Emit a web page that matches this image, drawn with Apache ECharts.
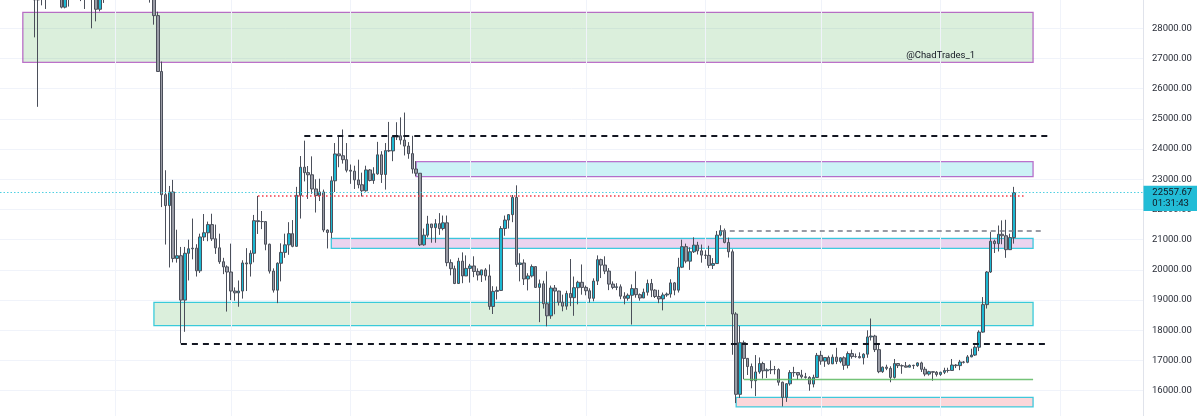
<!DOCTYPE html>
<html><head><meta charset="utf-8">
<script src="https://cdn.jsdelivr.net/npm/echarts@6/dist/echarts.min.js"></script>
<style>html,body{margin:0;padding:0;background:#fff;overflow:hidden}#c{width:1200px;height:416px}</style>
</head><body><div id="c"></div>
<script>
// ---- data: BTC daily candles, 2022-05-03 .. 2023-01-20 ----
const startDate = '2022-05-03';
const opens = [
// May
38470,37720,39690,36550,36010,35470,34060,30080,31020,28940,29030,29280,29870,31300,29850,30420,28700,30290,29180,29430,30290,29100,29650,29540,29200,28630,29030,29450,31720,
// Jun
31790,29800,30450,29700,29860,29900,31370,31120,30190,30100,29080,28420,26570,22490,22130,22580,20380,20470,19000,20550,20700,20720,19970,21090,21230,21500,21030,20730,20270,20100,
// Jul
19930,19300,19240,19300,20230,20200,20550,21630,21600,21600,20850,19960,19330,20220,20580,20830,21200,20780,22470,23400,23220,23150,22680,22460,22580,21320,21240,22950,23840,23780,23650,
// Aug
23300,23270,22980,22820,22620,23310,22960,23180,23810,23160,23950,23940,24400,24440,24300,24100,23850,23340,23200,20830,21150,21520,21400,21530,21370,21560,20240,20040,19550,20290,19800,
// Sep
20050,20130,19950,19830,20000,19800,18790,19290,19320,21370,21650,21830,22400,20180,20230,19700,19800,20110,19420,19540,18880,18480,19400,19300,18930,18800,19220,19080,19410,19590,
// Oct
19420,19310,19060,19630,20340,20160,19960,19530,19420,19440,19130,19060,19160,19380,19180,19070,19260,19550,19330,19120,19040,19170,19200,19570,19330,20090,20770,20290,20600,20820,20630,
// Nov
20490,20480,20150,20210,21150,21300,20910,20600,18540,15880,17590,17070,16800,16330,16620,16900,16660,16690,16700,16700,16280,15780,16230,16600,16600,16520,16460,16440,16220,16440,
// Dec
17170,16980,17100,16890,17110,16970,17090,16840,17230,17130,17130,17090,17210,17780,17810,17360,16630,16780,16740,16440,16900,16830,16820,16780,16840,16830,16920,16710,16550,16630,16610,
// Jan
16540,16610,16670,16670,16850,16830,16950,16940,17120,17180,17440,17940,18850,19930,20950,20870,21180,21130,20670,21070
];
const highs = [
38650,39980,39830,36650,36130,35500,34240,32650,32180,30030,31000,30340,31440,31300,30750,30650,30520,30770,29600,30440,30650,29790,30190,29850,29370,29220,29540,32200,32380,
31980,30640,30680,29950,30150,31760,31550,31320,30700,30350,29440,28550,26900,23300,22780,22980,21330,20760,20760,21000,21700,20850,21200,21850,21600,21860,21500,21200,20400,20150,
20870,19420,19650,20320,20720,20650,21820,22450,21950,21600,20870,20050,20250,20880,21200,21580,21650,22750,23770,24280,23440,23760,23000,23020,22660,21340,23100,24200,24450,24650,24200,
23490,23450,23650,23220,23450,23340,23400,24240,23930,24200,24900,24450,24890,25050,25210,24230,24440,23600,23200,21370,21790,21520,21680,21880,21800,21800,20350,20140,20400,20580,20480,
20200,20450,20050,20000,20060,20180,19460,19450,21450,21800,21850,22480,22800,20550,20350,19890,20180,20110,19680,19640,19950,19480,19500,19310,19180,19310,20360,19780,19640,20180,
19480,19390,19720,20480,20370,20450,20060,19620,19560,19520,19260,19220,19520,19950,19220,19380,19680,19700,19360,19340,19250,19250,19690,19600,20400,21000,20870,20750,21080,20930,20840,
20650,20800,20390,21290,21480,21370,21070,20680,18600,18150,17660,17080,16900,17180,17100,16960,16740,17000,16820,16740,16300,16250,16680,16790,16600,16690,16590,16480,16530,17250,
17320,17100,17160,17200,17420,17110,17140,17300,17360,17230,17270,17240,18000,18390,17850,17530,16800,16860,16810,17050,16910,16870,16950,16870,16860,16940,16960,16790,16660,16640,16650,
16630,16760,16760,17050,16880,17020,16980,17180,17390,17500,18000,19100,19960,21260,21000,21470,21640,21660,21200,22750
];
const lows = [
37500,37670,35860,35250,34800,33700,30000,29750,27700,25400,28760,28640,29480,29100,29450,28660,28660,28720,28950,29250,28900,28640,29300,28000,28230,28560,28840,29300,31210,
29330,29600,29280,29480,29500,29880,29220,29860,29940,28850,28120,26560,22080,20840,20080,20250,20240,17570,17950,19650,20350,19780,19900,20960,20950,20960,20530,20200,19860,18620,
19000,18980,18780,19050,19300,19780,20250,21190,21350,20650,19880,19250,18900,19620,20400,20500,20750,20770,21700,22930,22350,22520,21900,22280,21250,20710,21050,22580,23400,23520,23230,
22850,22680,22700,22430,22590,22930,22850,23150,22880,22660,23900,23600,24300,24150,23790,23680,23190,23100,20790,20800,21080,20900,20900,21160,21310,20120,19820,19530,19540,19560,19800,
19580,19760,19650,19600,19650,18680,18540,19020,19300,21130,21370,21580,20100,19620,19500,19320,19750,19400,18270,18720,18130,18380,18530,18820,18630,18680,18800,18480,18860,19180,
19160,18920,18960,19500,19730,19860,19330,19360,19330,19030,18860,18980,18190,19080,18980,19070,19150,19100,19070,18900,18660,19110,19080,19160,19250,20060,20220,20000,20560,20510,20240,
20360,20060,20030,20200,21110,20880,20410,17190,15590,15760,16380,16520,16080,15820,16560,16400,16420,16550,16540,16170,15480,15630,16170,16460,16360,16400,16400,16000,16110,16430,
16860,16790,16860,16880,16880,16910,16690,16740,17060,17090,17070,16870,17090,17660,17280,16580,16590,16680,16280,16400,16750,16560,16770,16780,16720,16790,16620,16480,16500,16330,16470,
16490,16550,16600,16660,16750,16680,16900,16910,17110,17150,17310,17920,18720,19900,20560,20610,20850,20400,20660,20870
];
const closes = [
37720,39690,36550,36010,35470,34060,30080,31020,28940,29030,29280,29870,31300,29850,30420,28700,30290,29180,29430,30290,29100,29650,29540,29200,28630,29030,29450,31720,31790,
29800,30450,29700,29860,29900,31370,31120,30190,30100,29080,28420,26570,22490,22130,22580,20380,20470,19000,20550,20700,20720,19970,21090,21230,21500,21030,20730,20270,20100,19930,
19300,19240,19300,20230,20200,20550,21630,21600,21600,20850,19960,19330,20220,20580,20830,21200,20780,22470,23400,23220,23150,22680,22460,22580,21320,21240,22950,23840,23780,23650,23300,
23270,22980,22820,22620,23310,22960,23180,23810,23160,23950,23940,24400,24440,24300,24100,23850,23340,23200,20830,21150,21520,21400,21530,21370,21560,20240,20040,19550,20290,19800,20050,
20130,19950,19830,20000,19800,18790,19290,19320,21370,21650,21830,22400,20180,20230,19700,19800,20110,19420,19540,18880,18480,19400,19300,18930,18800,19220,19080,19410,19590,19420,
19310,19060,19630,20340,20160,19960,19530,19420,19440,19130,19060,19160,19380,19180,19070,19260,19550,19330,19120,19040,19170,19200,19570,19330,20090,20770,20290,20600,20820,20630,20490,
20480,20150,20210,21150,21300,20910,20600,18540,15880,17590,17070,16800,16330,16620,16900,16660,16690,16700,16700,16280,15780,16230,16600,16600,16520,16460,16440,16220,16440,17170,
16980,17100,16890,17110,16970,17090,16840,17230,17130,17130,17090,17210,17780,17810,17360,16630,16780,16740,16440,16900,16830,16820,16780,16840,16830,16920,16710,16550,16630,16610,16540,
16610,16670,16670,16850,16830,16950,16940,17120,17180,17440,17940,18850,19930,20950,20870,21180,21130,20670,21070,22557.67
];
const countdown = '01:31:43';
const watermark = '@ChadTrades_1';
const monthStarts = ['2022-06-01','2022-07-01','2022-08-01','2022-09-01','2022-10-01','2022-11-01','2022-12-01','2023-01-01','2023-02-01'];
// drawn zones [from, to, low, high]
const zoneFrom = ['2022-05-08','2022-08-18','2022-07-27','2022-06-11','2022-11-09'];
const zoneTo   = ['2023-01-25','2023-01-25','2023-01-25','2023-01-25','2023-01-25'];
const zoneLow  = [26874, 23086, 20715, 18152, 15467];
const zoneHigh = [28530, 23583, 21046, 18927, 15778];
const zoneKind = ['greenPurple','cyanPurple','lilacCyan','greenCyan','pinkCyan'];
// drawn horizontal levels
const levelFrom  = ['2022-07-20','2022-06-18','2022-07-08','2022-11-05'];
const levelTo    = ['2023-01-29','2023-01-29','2023-01-23','2023-01-28'];
const levelPrice = [24434, 17570, 22450, 21288];
const levelKind  = ['blackDash','blackDash','redDot','grayDash'];
// thin green support line
const supportFrom = '2022-11-11', supportTo = '2023-01-25', supportPrice = 16380;

// ---- build ----
const DAY = 86400000;
function ts(s){const p=s.split('-').map(Number);return Date.UTC(p[0],p[1]-1,p[2]);}
const dates = closes.map((_, i) => new Date(ts(startDate) + i*DAY).toISOString().slice(0,10));
const candles = dates.map((d,i)=>[ts(d), opens[i], closes[i], lows[i], highs[i]]);
const last = closes[closes.length-1];

const zoneStyles = {
  greenPurple:{color:'rgba(76,175,80,0.2)', borderColor:'rgba(156,39,176,0.65)'},
  cyanPurple:{color:'rgba(0,188,212,0.2)', borderColor:'rgba(156,39,176,0.65)'},
  lilacCyan:{color:'rgba(156,39,176,0.2)', borderColor:'rgba(0,188,212,0.75)'},
  greenCyan:{color:'rgba(76,175,80,0.2)', borderColor:'rgba(0,188,212,0.75)'},
  pinkCyan:{color:'rgba(242,54,69,0.2)', borderColor:'rgba(0,188,212,0.75)'}
};
const levelStyles = {
  blackDash:{color:'#131722', width:2, type:[6,5]},
  redDot:{color:'#f23645', width:1.5, type:[1.5,2.5]},
  grayDash:{color:'#787b86', width:1.5, type:[5,4]}
};

const DX = 3.856; // px per day
const GRID_R = 57;
const xMin = ts(startDate) - 0.915*DAY;
const xMax = xMin + (1200-GRID_R)/DX*DAY;

const chart = echarts.init(document.getElementById('c'), null, {renderer:'canvas'});
const labelFont = 'Roboto, "Liberation Sans", sans-serif';
chart.setOption({
  animation:false,
  backgroundColor:'#ffffff',
  grid:{left:0, right:GRID_R, top:-1.9, bottom:-4.9, containLabel:false, outerBoundsMode:'none'},
  xAxis:{type:'time', min:xMin, max:xMax, show:true,
    axisLine:{show:false}, axisTick:{show:false}, axisLabel:{show:false}, splitLine:{show:false}},
  yAxis:{type:'value', position:'right', min:15000, max:29000, interval:1000, scale:true,
    axisLine:{show:true, lineStyle:{color:'#e0e3eb', width:1}},
    axisTick:{show:false},
    axisLabel:{margin:9, color:'#2a2e39', fontSize:9.5, fontFamily:labelFont,
      formatter:v=>v.toFixed(2)},
    splitLine:{show:true, lineStyle:{color:'#f0f3fa', width:1}}},
  series:[
    {type:'line', data:[], silent:true,
      markLine:{z:1, silent:true, symbol:['none','none'], label:{show:false},
        lineStyle:{color:'#f0f3fa', width:1, type:'solid'},
        data: monthStarts.map(d=>({xAxis:ts(d)}))}},
    {type:'line', data:[], silent:true, color:'#5cb860',
      markLine:{z:4, silent:true, symbol:['none','none'], label:{show:false},
        lineStyle:{color:'#5cb860', width:1.3, type:'solid', opacity:0.85},
        data:[[{coord:[ts(supportFrom), supportPrice]}, {coord:[ts(supportTo), supportPrice]}]]}},
    {type:'candlestick', z:2, data:candles, barWidth:3, silent:true,
      itemStyle:{color:'#1cb8d2', color0:'#9a9ca6', borderColor:'#4b4f5a', borderColor0:'#4b4f5a', borderWidth:1},
      markArea:{silent:true, z:1, label:{show:false},
        data: zoneFrom.map((f,i)=>[
          {xAxis:ts(f), yAxis:zoneHigh[i], itemStyle:Object.assign({borderWidth:1.3}, zoneStyles[zoneKind[i]])},
          {xAxis:ts(zoneTo[i]), yAxis:zoneLow[i]}])},
      markLine:{silent:true, symbol:['none','none'], label:{show:false},
        data: levelFrom.map((f,i)=>[
          {coord:[ts(f), levelPrice[i]], lineStyle:levelStyles[levelKind[i]]},
          {coord:[ts(levelTo[i]), levelPrice[i]]}]).concat([
          {yAxis:last, lineStyle:{color:'#4fd0e2', width:1, type:[1.5,2]}}])}
    }
  ]
});

// price tag on the axis, placed from the last close
const yLast = chart.convertToPixel({yAxisIndex:0}, last);
const axisX = 1200 - GRID_R;
const zTopRight = chart.convertToPixel({xAxisIndex:0, yAxisIndex:0}, [ts(zoneTo[0]), zoneLow[0]]);
chart.setOption({graphic:[
  {type:'rect', z:100, shape:{x:axisX+0.5, y:yLast-7, width:53.5, height:25.3}, style:{fill:'#22bcd6'}},
  {type:'text', z:101, x:axisX+9.3, y:yLast, style:{text:last.toFixed(2), fill:'#131722', font:'9.5px '+labelFont, textVerticalAlign:'middle'}},
  {type:'text', z:101, x:axisX+9.3, y:yLast+11.3, style:{text:countdown, fill:'#131722', font:'9.5px '+labelFont, textVerticalAlign:'middle'}},
  {type:'text', z:50, x:zTopRight[0]-58, y:zTopRight[1]-6.6, style:{text:watermark, fill:'#131722', font:'9.5px '+labelFont, textAlign:'right', textVerticalAlign:'middle'}}
]});
</script>
</body></html>
